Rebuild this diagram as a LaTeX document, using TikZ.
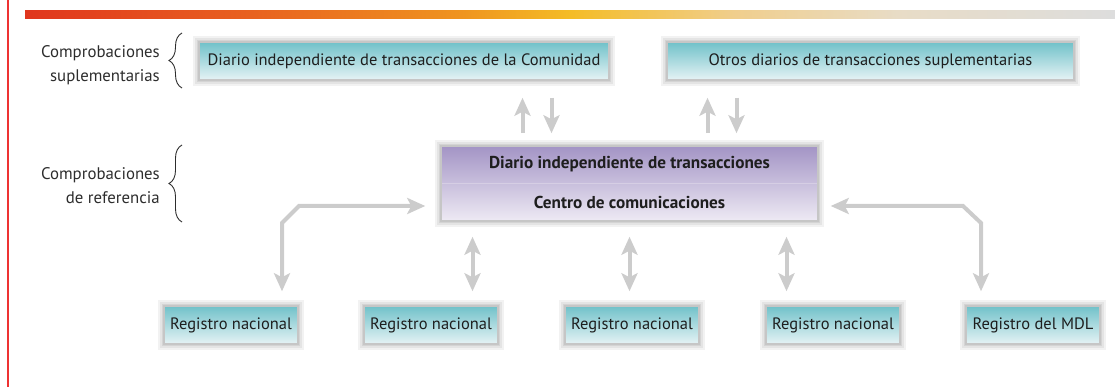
\documentclass[tikz,border=0pt]{standalone}
\usepackage{fontspec}
\setmainfont{PT Sans}
\usetikzlibrary{arrows.meta,calc,decorations.pathreplacing}
\definecolor{bar1}{RGB}{224,54,30}
\definecolor{bar2}{RGB}{232,96,31}
\definecolor{bar3}{RGB}{239,148,31}
\definecolor{bar4}{RGB}{244,188,38}
\definecolor{bar5}{RGB}{240,206,140}
\definecolor{bar6}{RGB}{232,220,198}
\definecolor{bar7}{RGB}{221,221,221}
\definecolor{leftred}{RGB}{238,50,50}
\definecolor{tealtop}{RGB}{112,193,201}
\definecolor{tealbot}{RGB}{230,243,245}
\definecolor{purtop}{RGB}{163,148,197}
\definecolor{purbot}{RGB}{238,234,244}
\definecolor{purdiv}{RGB}{214,206,228}
\definecolor{boxborder}{RGB}{198,198,198}
\definecolor{arrowgray}{RGB}{204,204,204}
\definecolor{textc}{RGB}{30,30,30}
\definecolor{lblc}{RGB}{45,45,45}
\pgfdeclarehorizontalshading{topbar}{100bp}{color(0bp)=(bar1); color(25bp)=(bar1); color(35bp)=(bar2); color(45bp)=(bar3); color(50bp)=(bar4); color(57.5bp)=(bar5); color(65bp)=(bar6); color(75bp)=(bar7); color(100bp)=(bar7)}
\tikzset{
  glow/.style={
    preaction={draw=black, line width=12pt, opacity=0.05},
    preaction={draw=black, line width=8pt, opacity=0.06},
    preaction={draw=black, line width=4pt, opacity=0.07}},
  tealbox/.style={glow, draw=boxborder, line width=1.5pt, top color=tealtop, bottom color=tealbot,
    minimum height=38pt, inner sep=0pt, text=textc, font=\fontsize{16.5}{19}\selectfont},
  purbox/.style={glow, draw=boxborder, line width=1.5pt, top color=purtop, bottom color=purbot,
    minimum height=75pt, minimum width=377pt, inner sep=0pt},
  midtext/.style={inner sep=0pt, text=textc, font=\fontsize{17.2}{20}\selectfont\bfseries},
  lbl/.style={inner sep=0pt, align=right, text=lblc, font=\fontsize{16.8}{24}\selectfont},
  garrow/.style={draw=arrowgray, line width=4pt, -{Stealth[length=18pt,width=16pt,inset=4pt]}},
  dblarrow/.style={draw=arrowgray, line width=4pt, {Stealth[length=18pt,width=16pt,inset=4pt]}-{Stealth[length=18pt,width=16pt,inset=4pt]}},
  bracestyle/.style={draw=lblc, line width=0.9pt, decorate, decoration={brace, amplitude=13pt}}
}
\begin{document}
\begin{tikzpicture}[x=1pt,y=-1pt]
\useasboundingbox (0,0) rectangle (1115,387);
% header decoration
\shade[shading=topbar] (25,11) rectangle (1115,19);
\fill[leftred] (6.5,0) rectangle (8.5,387);

% top boxes
\node[tealbox, minimum width=410pt] (T1) at (404,61) {Diario independiente de transacciones de la Comunidad};
\node[tealbox, minimum width=407pt] (T2) at (870.5,61) {Otros diarios de transacciones suplementarias};

% middle box
\node[purbox] (ITL) at (629.5,183.5) {};
\draw[purdiv, line width=1.5pt] ($(ITL.west)+(1.5,0)$) -- ($(ITL.east)+(-1.5,0)$);
\node[midtext] (M1) at ($(ITL.center)+(0,-19)$) {Diario independiente de transacciones};
\node[midtext] (M2) at ($(ITL.center)+(0,19)$) {Centro de comunicaciones};

% bottom boxes
\node[tealbox, minimum width=134pt] (B1) at (231,325) {Registro nacional};
\node[tealbox, minimum width=134pt] (B2) at (431,325) {Registro nacional};
\node[tealbox, minimum width=134pt] (B3) at (632,325) {Registro nacional};
\node[tealbox, minimum width=134pt] (B4) at (833,325) {Registro nacional};
\node[tealbox, minimum width=134pt] (B5) at (1033,325) {Registro del MDL};

% labels and braces
\node[lbl, anchor=east] (L1) at (160,65) {Comprobaciones\\suplementarias};
\node[lbl, anchor=east] (L2) at (160,186) {Comprobaciones\\de referencia};
\coordinate (br1a) at (182,88); \coordinate (br1b) at (182,33);
\coordinate (br2a) at (182,222); \coordinate (br2b) at (182,145);
\draw[bracestyle] (br1a) -- (br1b);
\draw[bracestyle] (br2a) -- (br2b);

% arrows to top boxes
\coordinate (u1) at ($(ITL.north)+(-107,0)$);
\coordinate (d1) at ($(ITL.north)+(-78,0)$);
\coordinate (u2) at ($(ITL.north)+(78,0)$);
\coordinate (d2) at ($(ITL.north)+(107,0)$);
\draw[garrow, shorten <=12pt, shorten >=17pt] (u1) -- (T1.south -| u1);
\draw[garrow, shorten <=17pt, shorten >=12pt] (T1.south -| d1) -- (d1);
\draw[garrow, shorten <=12pt, shorten >=17pt] (u2) -- (T2.south -| u2);
\draw[garrow, shorten <=17pt, shorten >=12pt] (T2.south -| d2) -- (d2);

% vertical double arrows
\coordinate (v2) at ($(ITL.south)+(-157,0)$);
\coordinate (v3) at ($(ITL.south)+(0,0)$);
\coordinate (v4) at ($(ITL.south)+(157,0)$);
\draw[dblarrow, shorten <=15pt, shorten >=14pt] (v2) -- (B2.north -| v2);
\draw[dblarrow, shorten <=15pt, shorten >=14pt] (v3) -- (B3.north -| v3);
\draw[dblarrow, shorten <=15pt, shorten >=14pt] (v4) -- (B4.north -| v4);

% elbow connectors
\coordinate (lk1) at (282,223); \coordinate (lk2) at (299,206);
\draw[dblarrow, line join=miter, shorten <=14pt, shorten >=15pt] (B1.north -| lk1) -- (lk1) -- (lk2) -- (lk2 -| ITL.west);
\coordinate (rk1) at (981,223); \coordinate (rk2) at (963,206);
\draw[dblarrow, line join=miter, shorten <=12pt, shorten >=14pt] (rk2 -| ITL.east) -- (rk2) -- (rk1) -- (B5.north -| rk1);
\end{tikzpicture}
\end{document}
